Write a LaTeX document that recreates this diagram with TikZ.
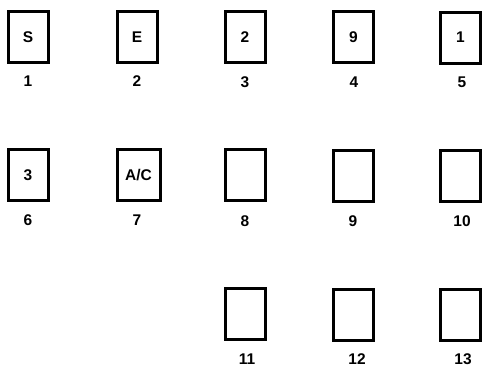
\documentclass[tikz,border=0pt]{standalone}
\usepackage{fontspec}
\setmainfont{Liberation Sans}
\begin{document}
\begin{tikzpicture}[x=1pt,y=-1pt,
  slot/.style={draw=black,line width=3pt,minimum width=40pt,minimum height=51pt,inner sep=0pt,font=\fontsize{15.5}{15.5}\selectfont\bfseries},
  num/.style={font=\fontsize{15.5}{15.5}\selectfont\bfseries,inner sep=0pt}]
\useasboundingbox (0,0) rectangle (482,368);
% row 1
\node[slot] (b1) at (28,37) {S};
\node[slot] (b2) at (137,37) {E};
\node[slot] (b3) at (245,37) {2};
\node[slot] (b4) at (353.5,37) {9};
\node[slot] (b5) at (460.5,37.5) {1};
% row 2
\node[slot] (b6) at (28,175) {3};
\node[slot,minimum width=43pt] (b7) at (138.5,175) {A/C};
\node[slot] (b8) at (245,175) {};
\node[slot] (b9) at (353.5,175.5) {};
\node[slot] (b10) at (460.5,176) {};
% row 3
\node[slot] (b11) at (245,314) {};
\node[slot] (b12) at (353.5,315) {};
\node[slot] (b13) at (460.5,315) {};
% labels
\node[num] (l1) at (28,81) {1};
\node[num] (l2) at (137,81) {2};
\node[num] (l3) at (245,82) {3};
\node[num] (l4) at (354,82) {4};
\node[num] (l5) at (462,82) {5};
\node[num] (l6) at (28,220) {6};
\node[num] (l7) at (137,220) {7};
\node[num] (l8) at (245,221) {8};
\node[num] (l9) at (353,221) {9};
\node[num] (l10) at (462,221) {10};
\node[num] (l11) at (247,359) {11};
\node[num] (l12) at (357,359.5) {12};
\node[num] (l13) at (463,359.5) {13};
\end{tikzpicture}
\end{document}
